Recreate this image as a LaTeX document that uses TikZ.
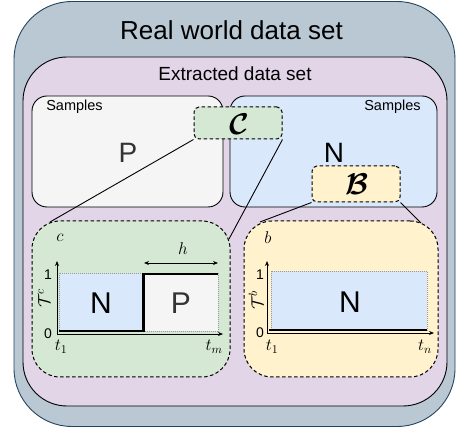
\RequirePackage{fix-cm}
\documentclass[tikz,border=0pt]{standalone}
\usepackage{amsmath}
\usepackage{fontspec}
\setmainfont{Liberation Sans}
\usetikzlibrary{arrows.meta}
\definecolor{outerfill}{HTML}{BAC8D3}
\definecolor{outerdraw}{HTML}{23445D}
\definecolor{purplefill}{HTML}{E1D5E7}
\definecolor{grayfill}{HTML}{F5F5F5}
\definecolor{bluefill}{HTML}{DAE8FC}
\definecolor{greenfill}{HTML}{D5E8D4}
\definecolor{yellowfill}{HTML}{FFF2CC}
\definecolor{graytext}{HTML}{333333}
\definecolor{dotgray}{HTML}{999999}
\tikzset{
  box/.style={draw, inner sep=0pt, line width=0.9pt},
  dbox/.style={draw, inner sep=0pt, line width=1pt, dash pattern=on 3.5pt off 2.5pt},
  region/.style={draw=dotgray, line width=0.6pt, dash pattern=on 1pt off 1pt},
  axis/.style={line width=0.8pt, -{Stealth[length=5pt,width=4pt]}},
  thick line/.style={line width=2.6pt},
  conn/.style={line width=0.9pt},
  mlabel/.style={inner sep=0pt, font=\fontsize{17}{20}\selectfont},
  tick/.style={inner sep=0pt, font=\fontsize{14}{16}\selectfont},
  callab/.style={inner sep=0pt, font=\fontsize{30}{32}\selectfont},
}
\begin{document}
\begin{tikzpicture}[x=1pt,y=-1pt]
\useasboundingbox (0,0) rectangle (458,430);
% outer
\node[box, draw=outerdraw, fill=outerfill, rounded corners=58pt, minimum width=441pt, minimum height=425pt] (outer) at (234.5,214) {};
\node[anchor=base, inner sep=0pt, font=\fontsize{26}{30}\selectfont] (title) at (231.5,40) {Real world data set};
% purple
\node[box, fill=purplefill, rounded corners=44pt, minimum width=424pt, minimum height=349pt] (extr) at (235,231.5) {};
\node[anchor=base, inner sep=0pt, font=\fontsize{19}{22}\selectfont] (extrlabel) at (235,81) {Extracted data set};
% samples boxes
\node[box, fill=grayfill, rounded corners=15pt, minimum width=191pt, minimum height=111pt] (sampP) at (127.5,151.5) {};
\node[box, fill=bluefill, rounded corners=15pt, minimum width=207pt, minimum height=111pt] (sampN) at (333.5,151.5) {};
\node[anchor=base, inner sep=0pt, font=\fontsize{14.5}{17}\selectfont] (slabP) at (74.5,111) {Samples};
\node[anchor=base, inner sep=0pt, font=\fontsize{14.5}{17}\selectfont] (slabN) at (392.5,111) {Samples};
\node[anchor=base, inner sep=0pt, text=graytext, font=\fontsize{28}{30}\selectfont] (Pbig) at (128,163) {P};
\node[anchor=base, inner sep=0pt, font=\fontsize{28}{30}\selectfont] (Nbig) at (334,163) {N};
% C and B boxes
\node[dbox, fill=greenfill, rounded corners=5pt, minimum width=88pt, minimum height=32pt] (Cbox) at (238,123) {};
\node[callab] (Clab) at (239,124) {$\boldsymbol{\mathcal{C}}$};
\node[dbox, fill=yellowfill, rounded corners=5pt, minimum width=88pt, minimum height=36pt] (Bbox) at (356,184) {};
\node[callab] (Blab) at (357,184) {$\boldsymbol{\mathcal{B}}$};
% detail boxes
\node[dbox, fill=greenfill, rounded corners=28pt, minimum width=198pt, minimum height=156pt] (gbox) at (131,299) {};
\node[dbox, fill=yellowfill, rounded corners=28pt, minimum width=194pt, minimum height=156pt] (ybox) at (341,299) {};
% connectors
\coordinate (g1) at (50,222);
\coordinate (g2) at (229,239);
\coordinate (y1) at (260,222);
\coordinate (y2) at (421,223);
\draw[conn] (Cbox.south west) -- (g1);
\draw[conn] (Cbox.south east) -- (g2);
\draw[conn] (Bbox.south west) -- (y1);
\draw[conn] (Bbox.south east) -- (y2);
% --- graph c ---
\node[mlabel] (clab) at (60,238) {$c$};
\filldraw[region, fill=bluefill] (59,273) rectangle (143,331);
\filldraw[region, fill=grayfill] (143,273) rectangle (218,331);
\node[inner sep=0pt, font=\fontsize{30}{32}\selectfont] (gN) at (101,303) {N};
\node[inner sep=0pt, text=graytext, font=\fontsize{30}{32}\selectfont] (gP) at (181,303) {P};
\coordinate (c0) at (57,334);
\coordinate (cy) at (57,261);
\coordinate (cx) at (223,334);
\draw[axis] (c0) -- (cy);
\draw[axis] (c0) -- (cx);
\draw[thick line] (59,331) -- (143.5,331) -- (143.5,274) -- (218,274);
\coordinate (h1) at (144,263);
\coordinate (h2) at (218,263);
\draw[line width=0.8pt, {Stealth[length=5pt,width=4pt]}-{Stealth[length=5pt,width=4pt]}] (h1) -- (h2);
\node[mlabel] (hlab) at (183,249) {$h$};
\node[tick] (c1) at (48,275) {1};
\node[tick] (cz) at (48,334) {0};
\node[mlabel] (ct1) at (61,347) {$t_1$};
\node[mlabel] (ctm) at (214,347) {$t_m$};
\node[mlabel, rotate=90] (cT) at (44,298) {$\mathcal{T}^c$};
% --- graph b ---
\node[mlabel] (blab) at (268,238) {$b$};
\filldraw[region, fill=bluefill] (271,271) rectangle (427,330);
\node[inner sep=0pt, font=\fontsize{30}{32}\selectfont] (bN) at (350,302) {N};
\coordinate (b0) at (267,333);
\coordinate (by) at (267,261);
\coordinate (bx) at (434,333);
\draw[axis] (b0) -- (by);
\draw[axis] (b0) -- (bx);
\draw[thick line] (269,330) -- (427,330);
\node[tick] (b1) at (260,275) {1};
\node[tick] (bz) at (260,333) {0};
\node[mlabel] (bt1) at (272,347) {$t_1$};
\node[mlabel] (btn) at (425,347) {$t_n$};
\node[mlabel, rotate=90] (bT) at (256,300) {$\mathcal{T}^b$};
\end{tikzpicture}
\end{document}
